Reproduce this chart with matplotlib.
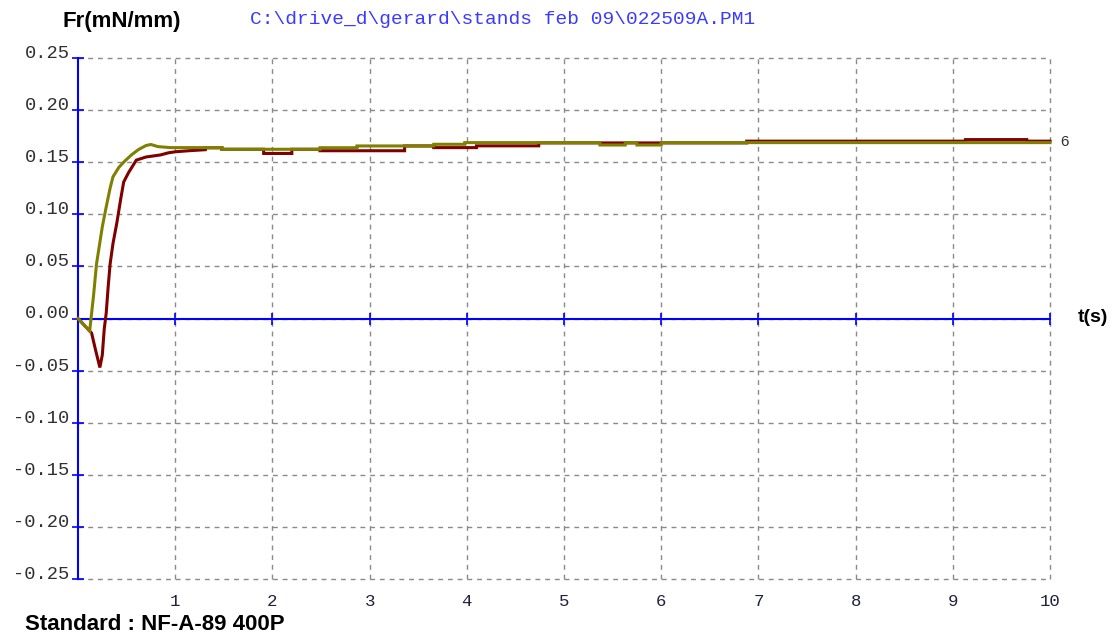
import matplotlib
matplotlib.use("Agg")
import matplotlib.pyplot as plt

# ---- data ----
t_red = [0.00, 0.06, 0.14, 0.18, 0.225, 0.25, 0.27, 0.29, 0.31, 0.33, 0.36, 0.40, 0.44, 0.47,
         0.52, 0.60, 0.70, 0.85, 0.93, 1.00, 1.14, 1.31, 1.31, 1.48, 1.48, 1.91, 1.91, 2.20, 2.20,
         2.49, 2.49, 3.36, 3.36, 3.66, 3.66, 4.10, 4.10, 4.74, 4.74, 6.88, 6.88, 9.13, 9.13,
         9.76, 9.76, 10.0]
y_red = [0.000, -0.006, -0.014, -0.030, -0.047, -0.035, -0.010, 0.005, 0.030, 0.052, 0.072, 0.092,
         0.115, 0.131, 0.140, 0.152, 0.155, 0.157, 0.159, 0.160, 0.161, 0.162, 0.1638, 0.1638,
         0.1624, 0.1624, 0.1584, 0.1584, 0.1624, 0.1624, 0.161, 0.161, 0.1656, 0.1656, 0.164,
         0.164, 0.1657, 0.1657, 0.1685, 0.1685, 0.1702, 0.1702, 0.1717, 0.1717, 0.1702, 0.1702]

t_olive = [0.00, 0.06, 0.12, 0.16, 0.19, 0.22, 0.25, 0.29, 0.33, 0.36, 0.42, 0.48, 0.55, 0.62,
           0.70, 0.75, 0.82, 0.95, 1.48, 1.48, 2.49, 2.49, 2.87, 2.87, 3.66, 3.66, 3.98, 3.98,
           5.37, 5.37, 5.63, 5.63, 5.75, 5.75, 6.00, 6.00, 10.0]
y_olive = [0.000, -0.006, -0.012, 0.022, 0.052, 0.070, 0.088, 0.107, 0.125, 0.136, 0.145, 0.151,
           0.157, 0.162, 0.166, 0.167, 0.165, 0.164, 0.164, 0.1624, 0.1624, 0.1639, 0.1639,
           0.1656, 0.1656, 0.1672, 0.1672, 0.1688, 0.1688, 0.1665, 0.1665, 0.1688, 0.1688,
           0.1665, 0.1665, 0.1688, 0.1688]

x_ticks = [1, 2, 3, 4, 5, 6, 7, 8, 9, 10]
x_tick_labels = ["1", "2", "3", "4", "5", "6", "7", "8", "9", "10"]
y_ticks = [0.25, 0.20, 0.15, 0.10, 0.05, 0.00, -0.05, -0.10, -0.15, -0.20, -0.25]
y_tick_labels = ["0.25", "0.20", "0.15", "0.10", "0.05", "0.00",
                 "-0.05", "-0.10", "-0.15", "-0.20", "-0.25"]

W, H = 1113, 635
fig = plt.figure(figsize=(W / 100, H / 100), dpi=100)
fig.patch.set_facecolor("white")
ax = fig.add_axes([78 / W, 1 - 579 / H, (1050 - 78) / W, (579 - 58) / H])
ax.set_xlim(0, 10)
ax.set_ylim(-0.25, 0.25)

mono = "Liberation Mono"
ax.set_xticks(x_ticks)
ax.set_xticklabels(x_tick_labels, fontfamily=mono, fontsize=12.5, color="#202040")
ax.set_yticks(y_ticks)
ax.set_yticklabels(y_tick_labels, fontfamily=mono, fontsize=13.5, color="#303030")
for lab in ax.get_yticklabels():
    lab.set_verticalalignment("baseline")
ax.tick_params(axis="x", length=0, pad=11)
ax.tick_params(axis="y", direction="inout", length=8, width=1.2, color="#0000ff", pad=2)

for s in ["top", "right", "bottom"]:
    ax.spines[s].set_visible(False)
ax.spines["left"].set_color("#0000ff")
ax.spines["left"].set_linewidth(1.5)
ax.spines["left"].set_zorder(4)

ax.grid(True, color="#8a8a8a", linewidth=1.0, linestyle=(0, (3.5, 3.5)))
for gl in ax.get_xgridlines() + ax.get_ygridlines():
    gl.set_clip_on(False)
ax.set_axisbelow(True)

# horizontal blue axis at y = 0 with ticks
ax.plot([0, 10], [0, 0], color="#0000ff", lw=1.5, zorder=4, clip_on=False)
ax.plot(x_ticks, [0] * len(x_ticks), linestyle="none", marker="|", markersize=8,
        markeredgewidth=1.2, color="#0000ff", zorder=4, clip_on=False)

ax.plot(t_red, y_red, color="#800000", lw=2.2, zorder=5, clip_on=False,
        solid_joinstyle="miter")
ax.plot(t_olive, y_olive, color="#808000", lw=2.2, zorder=6, clip_on=False,
        solid_joinstyle="miter")

ax.text(10.11, y_olive[-1] + 0.001, "6", fontsize=11, fontfamily="Liberation Sans",
        color="#303030", ha="left", va="center", clip_on=False)

bold = dict(fontfamily="Liberation Sans", fontweight="bold", color="black")
fig.text(63 / W, 1 - 22 / H, "Fr(mN/mm)", fontsize=16, ha="left", va="center", **bold)
fig.text(250 / W, 1 - 20 / H, r"C:\drive_d\gerard\stands feb 09\022509A.PM1",
         fontfamily=mono, fontsize=14, color="#3b3bff", ha="left", va="center")
fig.text(1108 / W, 1 - 318 / H, "t(s)", fontsize=14, ha="right", va="center", **bold)
fig.text(25 / W, 1 - 624 / H, "Standard : NF-A-89 400P", fontsize=16, ha="left",
         va="center", **bold)

fig.savefig("out.png", dpi=100, facecolor="white")
